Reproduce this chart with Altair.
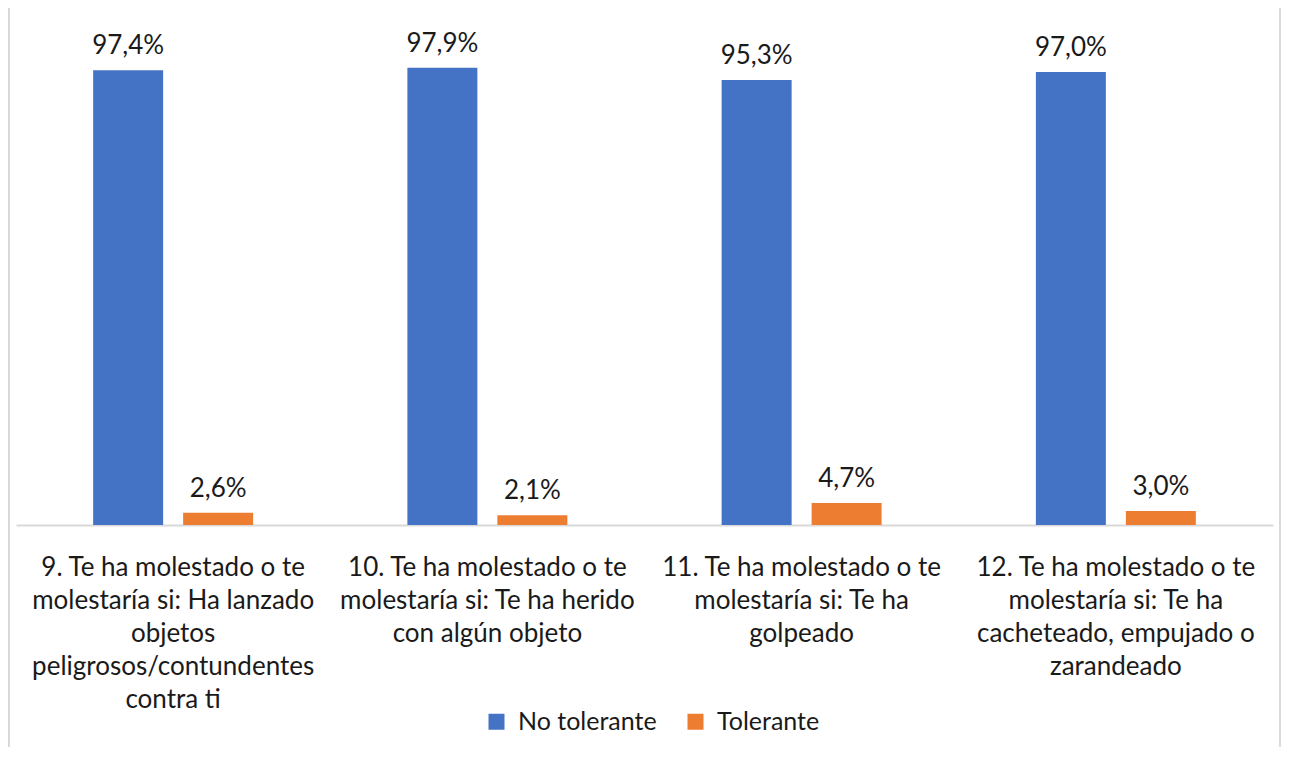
import altair as alt
import pandas as pd

categories = [
    "9. Te ha molestado o te|molestaría si: Ha lanzado|objetos|peligrosos/contundentes|contra ti",
    "10. Te ha molestado o te|molestaría si: Te ha herido|con algún objeto",
    "11. Te ha molestado o te|molestaría si: Te ha|golpeado",
    "12. Te ha molestado o te|molestaría si: Te ha|cacheteado, empujado o|zarandeado",
]
series = ["No tolerante", "Tolerante"]
no_tolerante = [97.4, 97.9, 95.3, 97.0]
tolerante = [2.6, 2.1, 4.7, 3.0]
colors = ["#4472C4", "#ED7D31"]

rows = []
for c, a, b in zip(categories, no_tolerante, tolerante):
    rows.append({"cat": c, "serie": series[0], "val": a})
    rows.append({"cat": c, "serie": series[1], "val": b})
df = pd.DataFrame(rows)
df["lbl"] = df["val"].map(lambda v: f"{v:.1f}%".replace(".", ","))

FONT = "Lato"
W, H = 1257, 467

x = alt.X("cat:N", sort=categories,
          scale=alt.Scale(paddingInner=0.4909, paddingOuter=0.2455),
          axis=alt.Axis(title=None, labelAngle=0, labelExpr="split(datum.label, '|')",
                        labelFont=FONT, labelFontSize=26, labelColor="#1a1a1a",
                        labelLineHeight=33, labelPadding=29, labelLimit=400,
                        ticks=False, domainColor="#d9d9d9", domainWidth=2,
                        labelBaseline="top"))
xo = alt.XOffset("serie:N", sort=series,
                 scale=alt.Scale(paddingInner=0.2222, paddingOuter=0))
y = alt.Y("val:Q", scale=alt.Scale(domain=[0, 100]), axis=None)

bars = alt.Chart(df).mark_bar().encode(
    x=x, xOffset=xo, y=y,
    color=alt.Color("serie:N", sort=series,
                    scale=alt.Scale(domain=series, range=colors),
                    legend=alt.Legend(title=None, orient="none", direction="horizontal",
                                      legendX=468, legendY=651,
                                      symbolType="square", symbolSize=256,
                                      symbolStrokeWidth=0,
                                      labelFont=FONT, labelFontSize=25,
                                      labelColor="#1a1a1a", labelOffset=9,
                                      columnPadding=26)),
)

labels = alt.Chart(df).mark_text(font=FONT, fontSize=26, color="#1a1a1a",
                                 baseline="alphabetic", dy=-16).encode(
    x=x, xOffset=xo, y=y, text="lbl:N"
)

border = alt.Chart(pd.DataFrame({"a": [0]})).mark_rect(
    filled=False, stroke="#d9d9d9", strokeWidth=2
).encode(x=alt.value(-7), x2=alt.value(1264), y=alt.value(-51), y2=alt.value(700))

chart = alt.layer(border, bars, labels).properties(
    width=W, height=H,
    autosize=alt.AutoSizeParams(type="none"),
    padding={"left": 8, "top": 50, "right": 8, "bottom": 222},
).configure_view(stroke=None)

chart.save("out.html", embed_options={"renderer": "svg", "actions": False})
